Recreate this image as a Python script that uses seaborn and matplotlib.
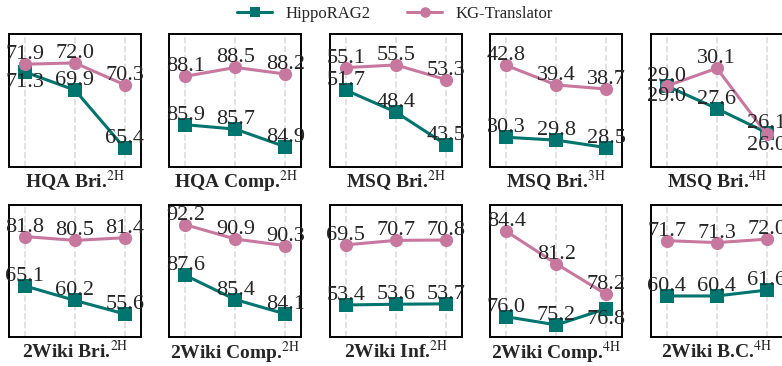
import matplotlib
matplotlib.use("Agg")
import matplotlib.pyplot as plt
import seaborn as sns
import pandas as pd

# panel titles and superscripts
titles = ["HQA Bri.", "HQA Comp.", "MSQ Bri.", "MSQ Bri.", "MSQ Bri.",
          "2Wiki Bri.", "2Wiki Comp.", "2Wiki Inf.", "2Wiki Comp.", "2Wiki B.C."]
hops = ["2H", "2H", "2H", "3H", "4H", "2H", "2H", "2H", "4H", "4H"]

hippo = [
    [71.3, 69.9, 65.4],
    [85.9, 85.7, 84.9],
    [51.7, 48.4, 43.5],
    [30.3, 29.8, 28.5],
    [29.0, 27.6, 26.1],
    [65.1, 60.2, 55.6],
    [87.6, 85.4, 84.1],
    [53.4, 53.6, 53.7],
    [76.0, 75.2, 76.8],
    [60.4, 60.4, 61.6],
]
kgt = [
    [71.9, 72.0, 70.3],
    [88.1, 88.5, 88.2],
    [55.1, 55.5, 53.3],
    [42.8, 39.4, 38.7],
    [29.0, 30.1, 26.0],
    [81.8, 80.5, 81.4],
    [92.2, 90.9, 90.3],
    [69.5, 70.7, 70.8],
    [84.4, 81.2, 78.2],
    [71.7, 71.3, 72.0],
]
# value labels placed below the marker (panel, series, index)
below = {(0, "HippoRAG2", 0), (4, "HippoRAG2", 0), (4, "KG-Translator", 2),
         (8, "HippoRAG2", 2)}

ylims = [(64, 74.2), (84, 90), (40.2, 60.1), (25.2, 48.2), (24, 32.2),
         (47.8, 92.5), (82, 94), (44.8, 80.2), (74, 87), (52, 79)]

green = "#00746E"
pink = "#C8779F"

sns.set_style("white")
plt.rcParams["font.family"] = ["Liberation Serif", "DejaVu Serif"]
plt.rcParams["mathtext.fontset"] = "stix"

fig, axes = plt.subplots(2, 5, figsize=(7.82, 3.66), dpi=100)
fig.subplots_adjust(left=0.0115, right=1.001, top=0.906, bottom=0.079,
                    wspace=0.216, hspace=0.29)

for i, ax in enumerate(axes.flat):
    df = pd.DataFrame({
        "x": [0, 1, 2] * 2,
        "score": hippo[i] + kgt[i],
        "method": ["HippoRAG2"] * 3 + ["KG-Translator"] * 3,
    })
    sns.lineplot(data=df, x="x", y="score", hue="method", style="method",
                 markers={"HippoRAG2": "s", "KG-Translator": "o"}, dashes=False,
                 palette={"HippoRAG2": green, "KG-Translator": pink},
                 markersize=9.5, linewidth=2.2, markeredgewidth=0,
                 legend=(i == 0), ax=ax)
    for name, vals in [("HippoRAG2", hippo[i]), ("KG-Translator", kgt[i])]:
        for j, v in enumerate(vals):
            if (i, name, j) in below:
                ax.annotate(f"{v:.1f}", (j, v), xytext=(0, -1), textcoords="offset points",
                            ha="center", va="top", fontsize=16)
            else:
                ax.annotate(f"{v:.1f}", (j, v), xytext=(0, 0), textcoords="offset points",
                            ha="center", va="bottom", fontsize=16)
    ax.set_xlim(-0.32, 2.32)
    ax.set_ylim(*ylims[i])
    ax.set_xticks([0, 1, 2])
    ax.set_xticklabels([])
    ax.set_yticks([])
    ax.tick_params(length=0, pad=0)
    ax.grid(axis="x", linestyle="--", color="#DDDDDD", linewidth=1.2)
    ax.set_ylabel("")
    ax.set_xlabel(titles[i] + r"$^{\mathrm{" + hops[i] + r"}}$",
                  fontsize=14, fontweight="bold", labelpad=2)
    for s in ax.spines.values():
        s.set_color("black")
        s.set_linewidth(1.4)

handles, labels = axes[0, 0].get_legend_handles_labels()
axes[0, 0].get_legend().remove()
fig.legend(handles, labels, loc="upper center", bbox_to_anchor=(0.505, 1.025), ncol=2,
           frameon=False, fontsize=12, markerscale=0.8, handlelength=2.1,
           columnspacing=2.2)

fig.savefig("out.png", dpi=100)
